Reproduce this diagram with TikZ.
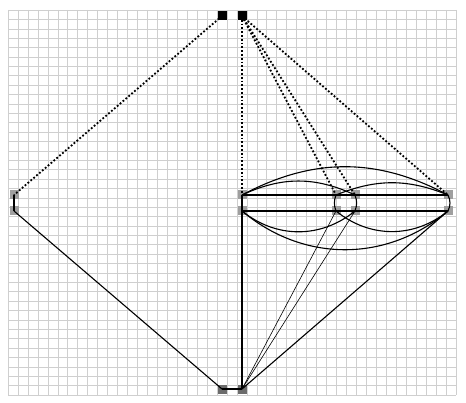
\documentclass[tikz,border=0pt]{standalone}
\begin{document}
\begin{tikzpicture}[x=1pt,y=-1pt,
  vtx/.style={draw=none,fill=gray!75,minimum size=9pt,inner sep=0pt,outer sep=0pt},
  topv/.style={draw=none,fill=black,minimum size=9pt,inner sep=0pt,outer sep=0pt},
  botv/.style={draw=none,fill=gray!85!black,minimum size=9pt,inner sep=0pt,outer sep=0pt},
  sol/.style={line width=1.1pt,black},
  thin/.style={line width=0.6pt,black},
  dot/.style={line width=1.8pt,black,dotted}]
\useasboundingbox (0,0) rectangle (466,403);
\fill[white] (0,0) rectangle (466,403);
% grid
\foreach \i in {0,...,45} {\draw[gray!38,line width=0.5pt] (8+\i*9.95,10) -- (8+\i*9.95,395);}
\foreach \j in {0,...,41} {\draw[gray!38,line width=0.5pt] (8,10+\j*9.39) -- (455.75,10+\j*9.39);}
% nodes
\node[topv] (a1) at (222,16) {};
\node[topv] (a2) at (242,16) {};
\node[vtx] (l1) at (14,195) {};
\node[vtx] (l2) at (14,211) {};
\node[vtx] (m1) at (242,195) {};
\node[vtx] (m2) at (242,211) {};
\node[vtx] (c1) at (336,195) {};
\node[vtx] (c2) at (336,211) {};
\node[vtx] (d1) at (355,195) {};
\node[vtx] (d2) at (355,211) {};
\node[vtx] (r1) at (448,195) {};
\node[vtx] (r2) at (448,211) {};
\node[botv] (b1) at (222,389) {};
\node[botv] (b2) at (242,389) {};
% dotted
\draw[dot] (a1.center) -- (l1.center);
\draw[dot] (a2.center) -- (m1.center);
\draw[dot] (a2.center) -- (c1.center);
\draw[dot] (a2.center) -- (d1.center);
\draw[dot] (a2.center) -- (r1.center);
% solid
\draw[sol] (l1.center) -- (l2.center);
\draw[sol] (l2.center) -- (b1.center);
\draw[sol] (b1.center) -- (b2.center);
\draw[sol] (m1.center) -- (m2.center);
\draw[sol] (m2.center) -- (b2.center);
\draw[sol] (m1.center) -- (r1.center);
\draw[sol] (m2.center) -- (r2.center);
\draw[sol] (c1.center) to[bend right=20] (c2.center);
\draw[sol] (d1.center) to[bend left=20] (d2.center);
\draw[sol] (r1.center) to[bend left=25] (r2.center);
\draw[sol] (m1.center) to[bend left=28] (r1.center);
\draw[sol] (m1.center) to[bend left=25] (d1.center);
\draw[sol] (c1.center) to[bend left=22] (r1.center);
\draw[sol] (m2.center) to[bend right=39] (d2.center);
\draw[sol] (c2.center) to[bend right=39] (r2.center);
\draw[sol] (m2.center) to[bend right=40] (r2.center);
\draw[thin] (b2.center) -- (c2.center);
\draw[thin] (b2.center) -- (d2.center);
\draw[sol] (b2.center) -- (r2.center);
\end{tikzpicture}
\end{document}
